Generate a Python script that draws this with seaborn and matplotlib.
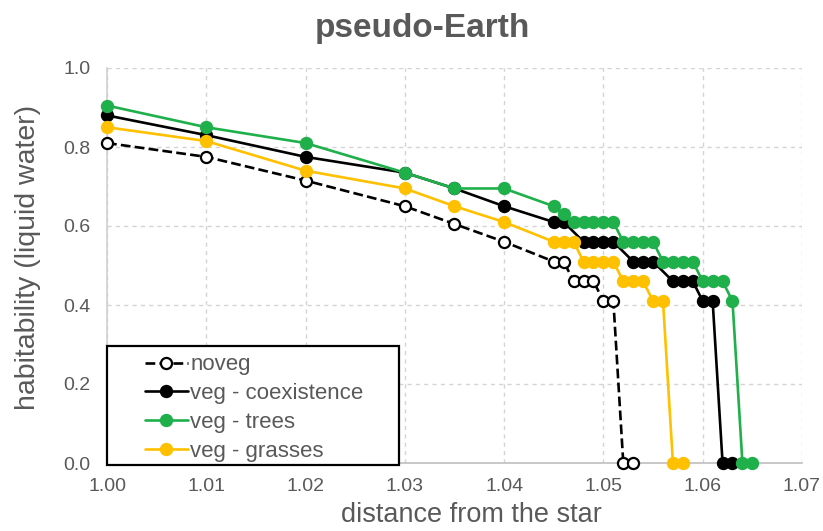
import matplotlib
matplotlib.use("Agg")
import matplotlib.pyplot as plt
import seaborn as sns
import numpy as np
import pandas as pd
from matplotlib.patches import Rectangle

# values
x_noveg = [1.00, 1.01, 1.02, 1.03, 1.035, 1.04, 1.045, 1.046, 1.047, 1.048, 1.049, 1.050, 1.051, 1.052, 1.053]
h_noveg = [0.81, 0.775, 0.715, 0.65, 0.605, 0.56, 0.51, 0.51, 0.46, 0.46, 0.46, 0.41, 0.41, 0.0, 0.0]

x_coex = [1.00, 1.01, 1.02, 1.03, 1.035, 1.04, 1.045, 1.046, 1.048, 1.049, 1.050, 1.051,
          1.053, 1.054, 1.055, 1.057, 1.058, 1.059, 1.060, 1.061, 1.062, 1.063]
h_coex = [0.88, 0.83, 0.775, 0.735, 0.695, 0.65, 0.61, 0.61, 0.56, 0.56, 0.56, 0.56,
          0.51, 0.51, 0.51, 0.46, 0.46, 0.46, 0.41, 0.41, 0.0, 0.0]

x_trees = [1.00, 1.01, 1.02, 1.03, 1.035, 1.04, 1.045, 1.046, 1.047, 1.048, 1.049, 1.050, 1.051,
           1.052, 1.053, 1.054, 1.055, 1.056, 1.057, 1.058, 1.059, 1.060, 1.061, 1.062, 1.063, 1.064, 1.065]
h_trees = [0.905, 0.85, 0.81, 0.735, 0.695, 0.695, 0.65, 0.63, 0.61, 0.61, 0.61, 0.61, 0.61,
           0.56, 0.56, 0.56, 0.56, 0.51, 0.51, 0.51, 0.51, 0.46, 0.46, 0.46, 0.41, 0.0, 0.0]

x_grass = [1.00, 1.01, 1.02, 1.03, 1.035, 1.04, 1.045, 1.046, 1.047, 1.048, 1.049, 1.050, 1.051,
           1.052, 1.053, 1.054, 1.055, 1.056, 1.057, 1.058]
h_grass = [0.85, 0.815, 0.74, 0.695, 0.65, 0.61, 0.56, 0.56, 0.56, 0.51, 0.51, 0.51, 0.51,
           0.46, 0.46, 0.46, 0.41, 0.41, 0.0, 0.0]

x_ticks = [1.00, 1.01, 1.02, 1.03, 1.04, 1.05, 1.06, 1.07]
y_ticks = [0.0, 0.2, 0.4, 0.6, 0.8, 1.0]

sns.set_theme(style="white")
plt.rcParams['font.family'] = ['Liberation Sans', 'DejaVu Sans']
grey = '#595959'

fig = plt.figure(figsize=(8.23, 5.31), dpi=100)
ax = fig.add_axes([107 / 823, 68 / 531, 695 / 823, 395 / 531])

series = [
    ("noveg", x_noveg, h_noveg, 'black', 'white', '--'),
    ("veg - coexistence", x_coex, h_coex, 'black', 'black', '-'),
    ("veg - trees", x_trees, h_trees, '#1fb04b', '#1fb04b', '-'),
    ("veg - grasses", x_grass, h_grass, '#ffc000', '#ffc000', '-'),
]

for i, (name, xs, ys, col, face, ls) in enumerate(series):
    df = pd.DataFrame({"x": xs, "y": ys})
    sns.lineplot(data=df, x="x", y="y", ax=ax, sort=False, estimator=None,
                 color=col, linestyle=ls, linewidth=1.9, marker='o', markersize=8,
                 markerfacecolor=face, markeredgecolor=col, markeredgewidth=1.6,
                 dashes=(4, 2.5) if ls == '--' else None,
                 label=name, clip_on=False, zorder=3 + i)

ax.set_xlim(1.00, 1.07)
ax.set_ylim(0.0, 1.0)
ax.set_xticks(x_ticks)
ax.set_yticks(y_ticks)
ax.set_xticklabels([f"{v:.2f}" for v in x_ticks])
ax.set_yticklabels([f"{v:.1f}" for v in y_ticks])
ax.tick_params(axis='both', length=0, labelsize=14, colors=grey)
ax.tick_params(axis='x', pad=11)
ax.tick_params(axis='y', pad=12)

ax.grid(True, linestyle=(0, (3, 3)), color='#d4d4d4', linewidth=1)
for side in ['top', 'right']:
    ax.spines[side].set_visible(False)
ax.spines['left'].set_color('#d0d0d0')
ax.spines['bottom'].set_color('#bfbfbf')
ax.spines['left'].set_linewidth(1.2)
ax.spines['bottom'].set_linewidth(1.2)

ax.set_xlabel("distance from the star", fontsize=19.5, color=grey)
ax.set_ylabel("habitability (liquid water)", fontsize=20.5, color=grey)
ax.xaxis.set_label_coords(0.525, -0.098)
ax.yaxis.set_label_coords(-0.095, 0.52)

fig.text(422 / 823, 1 - 28 / 531, "pseudo-Earth", ha='center', va='center',
         fontsize=24, fontweight='bold', color=grey)

# legend box
ax.add_patch(Rectangle((0.0, -0.005), 0.42, 0.30, transform=ax.transAxes,
                       facecolor='white', edgecolor='black', linewidth=1.6,
                       zorder=8, clip_on=False))
handles, labels = ax.get_legend_handles_labels()
leg = ax.legend(handles, labels, loc='upper left', bbox_to_anchor=(0.054, 0.275),
                frameon=False, fontsize=16, labelcolor=grey, handlelength=1.95,
                handletextpad=0.1, labelspacing=0.35, borderpad=0, borderaxespad=0)
leg.set_zorder(9)

fig.savefig("out.png", dpi=100)
